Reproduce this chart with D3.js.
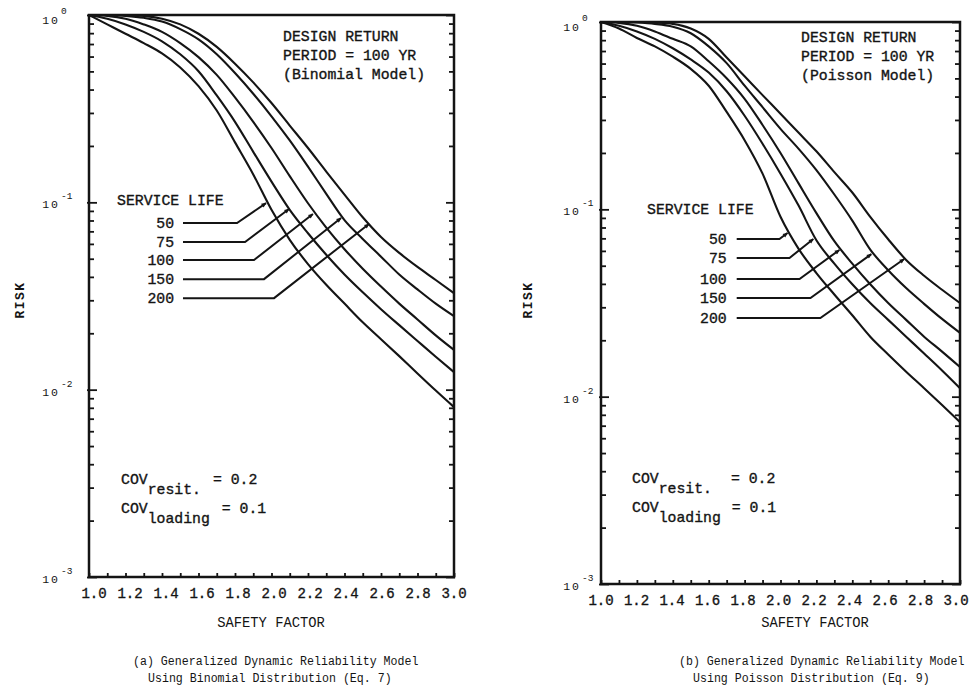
<!DOCTYPE html>
<html><head><meta charset="utf-8">
<script src="https://cdn.jsdelivr.net/npm/d3@7"></script>
<style>body{margin:0;background:#fff}svg{display:block}</style>
</head><body>
<svg id="c" width="971" height="692"></svg>
<script>
// ---------- DATA ----------
const safetyFactor = [1.0,1.1,1.2,1.3,1.4,1.5,1.6,1.7,1.8,1.9,2.0,2.1,2.2,2.3,2.4,2.5,2.6,2.7,2.8,2.9,3.0];
const serviceLifeLabels = ["50","75","100","150","200"];

// (a) Binomial model, risk per service life
const binomial50  = [1.0,0.891,0.794,0.708,0.624,0.525,0.417,0.309,0.209,0.141,0.0912,0.0631,0.0468,0.0363,0.0288,0.0229,0.0186,0.0151,0.0122,0.00989,0.00807];
const binomial75  = [1.0,0.955,0.891,0.813,0.724,0.617,0.501,0.372,0.269,0.186,0.129,0.0912,0.0684,0.0525,0.0412,0.0331,0.0269,0.0221,0.0182,0.0150,0.0124];
const binomial100 = [1.0,0.989,0.955,0.891,0.813,0.708,0.596,0.479,0.363,0.269,0.195,0.138,0.0989,0.0733,0.0562,0.0442,0.0355,0.0288,0.0237,0.0195,0.0163];
const binomial150 = [1.0,1.0,0.989,0.966,0.923,0.841,0.741,0.617,0.490,0.380,0.288,0.214,0.155,0.111,0.0804,0.0638,0.0513,0.0412,0.0343,0.0288,0.0247];
const binomial200 = [1.0,1.0,1.0,0.989,0.955,0.891,0.794,0.676,0.550,0.437,0.339,0.257,0.195,0.146,0.110,0.0832,0.0653,0.0537,0.0452,0.0385,0.0327];

// (b) Poisson model
const poisson50  = [1.0,0.923,0.822,0.741,0.653,0.562,0.457,0.331,0.234,0.155,0.0912,0.0617,0.0457,0.0351,0.0272,0.0209,0.0168,0.0136,0.0111,0.00902,0.00731];
const poisson75  = [1.0,0.955,0.891,0.813,0.724,0.631,0.537,0.427,0.316,0.224,0.155,0.105,0.0684,0.0513,0.0398,0.0316,0.0257,0.0209,0.0170,0.0138,0.0111];
const poisson100 = [1.0,0.989,0.955,0.891,0.813,0.741,0.617,0.501,0.389,0.282,0.200,0.138,0.0955,0.0676,0.0513,0.0398,0.0316,0.0257,0.0209,0.0174,0.0144];
const poisson150 = [1.0,1.0,0.993,0.977,0.944,0.871,0.741,0.603,0.457,0.351,0.269,0.211,0.162,0.120,0.0871,0.0610,0.0473,0.0380,0.0313,0.0260,0.0219];
const poisson200 = [1.0,1.0,1.0,0.993,0.977,0.923,0.813,0.646,0.513,0.407,0.324,0.257,0.204,0.158,0.123,0.0912,0.0692,0.0537,0.0442,0.0372,0.0316];

// leader-line annotations (data coordinates: safety factor, risk)
const binomialRowRisk  = [0.0775,0.0614,0.0492,0.0389,0.0308];
const binomialElbowSF  = [1.811,1.855,1.904,1.959,2.014];
const binomialTipSF    = [1.970,2.096,2.227,2.381,2.534];
const binomialTipRisk  = [0.0991,0.0921,0.0866,0.0824,0.0766];
const poissonRowRisk   = [0.0694,0.0550,0.0425,0.0336,0.0263];
const poissonElbowSF   = [1.994,2.050,2.106,2.167,2.222];
const poissonTipSF     = [2.039,2.183,2.328,2.506,2.689];
const poissonTipRisk   = [0.0747,0.0694,0.0607,0.0577,0.0543];

const xTickLabels = [1.0,1.2,1.4,1.6,1.8,2.0,2.2,2.4,2.6,2.8,3.0];
const yDecades = [1,0.1,0.01,0.001];
const yExponents = ["0","-1","-2","-3"];

// ---------- DRAW ----------
const svg = d3.select("#c");
const INK = "#141414";
const MONO = "'Liberation Mono','DejaVu Sans Mono',monospace";

svg.append("defs").append("marker")
  .attr("id","arr").attr("viewBox","0 0 10 10").attr("refX",9).attr("refY",5)
  .attr("markerWidth",6).attr("markerHeight",5).attr("orient","auto")
  .attr("markerUnits","userSpaceOnUse")
  .append("path").attr("d","M0,0.5 L10,5 L0,9.5 z").attr("fill",INK);

const panels = [
  { x0:89, x1:454, y0:15, y1:577, labX:[94,454],
    series:[binomial50,binomial75,binomial100,binomial150,binomial200],
    rowRisk:binomialRowRisk, elbowSF:binomialElbowSF, tipSF:binomialTipSF, tipRisk:binomialTipRisk,
    labelEndSF:1.466, leaderStartSF:1.515,
    slX:117, slY:205,
    design:["DESIGN RETURN","PERIOD = 100 YR","(Binomial Model)"], designX:283, designY:41,
    covX:121, covY:484, covDx1:12, covDx2:12,
    tickLabelX:60, riskX:20, riskY:300, xLabY:598,
    sfX:271, caption:["(a) Generalized Dynamic Reliability Model","Using Binomial Distribution (Eq. 7)"],
    capX:[133,148] },
  { x0:601, x1:960, y0:22, y1:584, labX:[601,956],
    series:[poisson50,poisson75,poisson100,poisson150,poisson200],
    rowRisk:poissonRowRisk, elbowSF:poissonElbowSF, tipSF:poissonTipSF, tipRisk:poissonTipRisk,
    labelEndSF:1.70, leaderStartSF:1.756,
    slX:647, slY:214,
    design:["DESIGN RETURN","PERIOD = 100 YR","(Poisson Model)"], designX:801, designY:42,
    covX:632, covY:483, covDx1:19, covDx2:11,
    tickLabelX:581, riskX:528, riskY:300, xLabY:605,
    sfX:815, caption:["(b) Generalized Dynamic Reliability Model","Using Poisson Distribution (Eq. 9)"],
    capX:[679,693] }
];

const txt = (sel, size) => sel.attr("font-family",MONO).attr("font-size",size)
  .attr("fill",INK).attr("stroke",INK).attr("stroke-width",0.35);

panels.forEach(p => {
  const x = d3.scaleLinear().domain([1,3]).range([p.x0,p.x1]);
  const xl = d3.scaleLinear().domain([1,3]).range(p.labX);
  const y = d3.scaleLog().domain([1e-3,1]).range([p.y1,p.y0]);
  const g = svg.append("g");

  // curves
  const line = d3.line().x((d,i)=>x(safetyFactor[i])).y(d=>y(d)).curve(d3.curveMonotoneX);
  p.series.forEach(s => g.append("path").attr("d",line(s))
    .attr("fill","none").attr("stroke",INK).attr("stroke-width",2.1));

  // frame
  g.append("rect").attr("x",p.x0).attr("y",p.y0)
    .attr("width",p.x1-p.x0).attr("height",p.y1-p.y0)
    .attr("fill","none").attr("stroke",INK).attr("stroke-width",2.5);

  // log ticks (inward) on both sides
  const minor = y.ticks().filter(v => !yDecades.includes(+v.toPrecision(3)));
  const addAx = (ax, tx) => {
    const a = g.append("g").attr("transform",tx).call(ax);
    a.select(".domain").remove();
    a.selectAll("text").remove();
    a.selectAll("line").attr("stroke",INK).attr("stroke-width",1.8);
  };
  addAx(d3.axisRight(y).tickValues(minor).tickSize(5), `translate(${p.x0},0)`);
  addAx(d3.axisRight(y).tickValues(yDecades).tickSize(10), `translate(${p.x0-2},0)`);
  addAx(d3.axisLeft(y).tickValues(minor).tickSize(5), `translate(${p.x1},0)`);
  addAx(d3.axisLeft(y).tickValues(yDecades).tickSize(9), `translate(${p.x1+1},0)`);
  addAx(d3.axisTop(x).tickValues(safetyFactor).tickSize(4), `translate(0,${p.y1})`);

  // x tick labels
  txt(g.selectAll(".xl").data(xTickLabels).enter().append("text")
    .attr("x",d=>xl(d)).attr("y",p.xLabY).attr("text-anchor","middle"), 14)
    .text(d=>d.toFixed(1));

  // y tick labels 10^n
  yDecades.forEach((v,i) => {
    g.append("text").attr("x",p.tickLabelX).attr("y",y(v)+(i===0?9:6))
      .attr("text-anchor","end").attr("font-family",MONO).attr("font-size",11.5)
      .attr("letter-spacing",2).attr("fill",INK).text("10");
    g.append("text").attr("x",p.tickLabelX+1).attr("y",y(v)+(i===0?-1:-3))
      .attr("font-family",MONO).attr("font-size",9.5).attr("fill",INK).text(yExponents[i]);
  });

  // RISK label
  g.append("text").attr("transform",`translate(${p.riskX},${p.riskY}) rotate(-90)`)
    .attr("text-anchor","middle").attr("dominant-baseline","central")
    .attr("font-family",MONO).attr("font-size",13).attr("font-weight","bold")
    .attr("letter-spacing",1.5).attr("fill",INK).text("RISK");

  // SAFETY FACTOR
  g.append("text").attr("transform",`translate(${p.sfX},627) scale(0.92,1)`)
    .attr("text-anchor","middle")
    .attr("font-family",MONO).attr("font-size",15).attr("fill",INK).text("SAFETY FACTOR");

  // captions (condensed)
  p.caption.forEach((c,i) => g.append("text")
    .attr("transform",`translate(${p.capX[i]},${665+i*17}) scale(0.86,1)`)
    .attr("font-family",MONO).attr("font-size",13.5).attr("fill",INK).text(c));

  // design return text
  p.design.forEach((t,i) => txt(g.append("text").attr("x",p.designX).attr("y",p.designY+i*19), 14.8).text(t));

  // service life header + labels + leaders
  txt(g.append("text").attr("x",p.slX).attr("y",p.slY), 14.8).text("SERVICE LIFE");
  serviceLifeLabels.forEach((lab,i) => {
    const ry = y(p.rowRisk[i]);
    txt(g.append("text").attr("x",x(p.labelEndSF)).attr("y",ry+5).attr("text-anchor","end"), 14.8).text(lab);
    g.append("path")
      .attr("d",`M${x(p.leaderStartSF)},${ry}L${x(p.elbowSF[i])},${ry}L${x(p.tipSF[i])},${y(p.tipRisk[i])}`)
      .attr("fill","none").attr("stroke",INK).attr("stroke-width",2)
      .attr("marker-end","url(#arr)");
  });

  // COV text
  const c1 = txt(g.append("text").attr("x",p.covX).attr("y",p.covY), 14.8);
  c1.append("tspan").text("COV");
  c1.append("tspan").attr("dy",10).text("resit.");
  c1.append("tspan").attr("dy",-10).attr("dx",p.covDx1).text("= 0.2");
  const c2 = txt(g.append("text").attr("x",p.covX).attr("y",p.covY+29), 14.8);
  c2.append("tspan").text("COV");
  c2.append("tspan").attr("dy",10).text("loading");
  c2.append("tspan").attr("dy",-10).attr("dx",p.covDx2).text("= 0.1");
});
</script>
</body></html>
